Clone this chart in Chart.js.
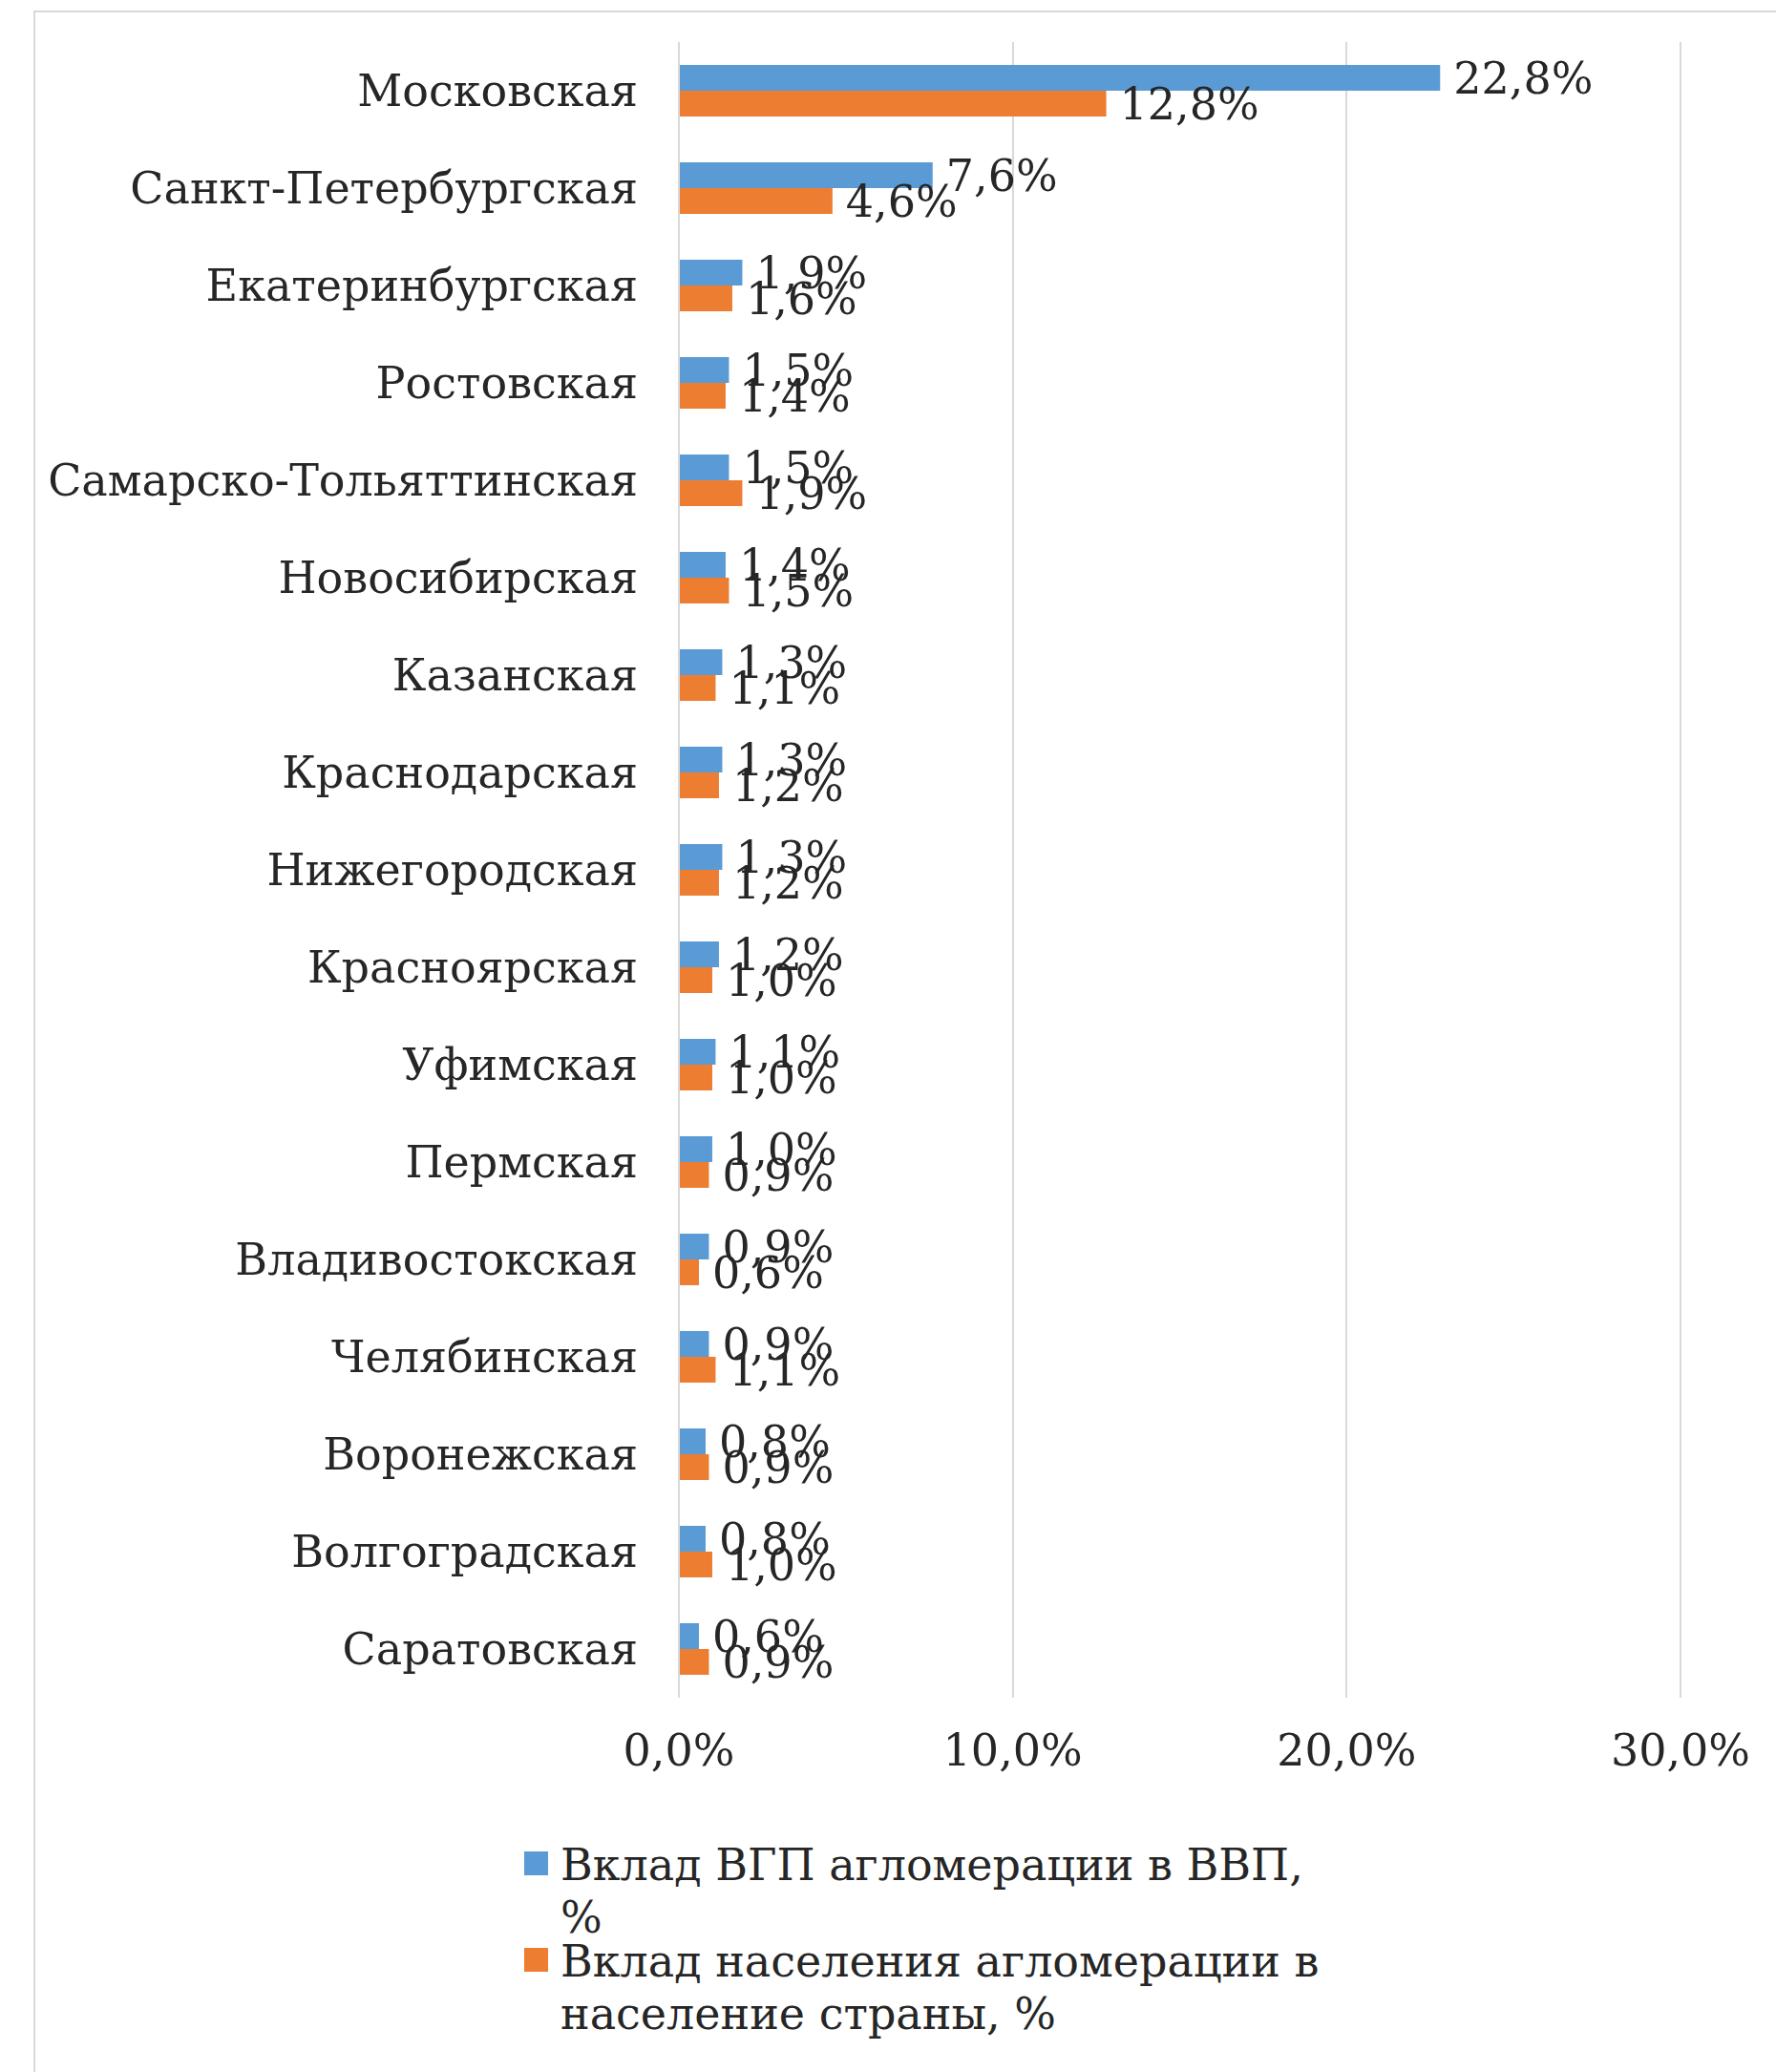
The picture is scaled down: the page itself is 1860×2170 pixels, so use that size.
<!DOCTYPE html>
<html lang="ru">
<head>
<meta charset="utf-8">
<title>Вклад агломераций</title>
<script src="https://cdn.jsdelivr.net/npm/chart.js@4.4.1/dist/chart.umd.min.js"></script>
<style>
  html, body { margin: 0; padding: 0; background: #ffffff; overflow: hidden; }
  #page { position: relative; width: 1860px; height: 2170px; overflow: hidden; background: #fff; }
  #frame { position: absolute; left: 35px; top: 11px; width: 1900px; height: 2300px;
           border: 2px solid #d9d9d9; box-sizing: border-box; }
  #c { position: absolute; left: 0; top: 0; }
  .lg { position: absolute; font-family: "DejaVu Serif", serif; font-size: 46px; line-height: 55px;
        color: #262626; white-space: nowrap; }
  .sw { position: absolute; width: 25px; height: 25px; }
</style>
</head>
<body>
<div id="page">
  <div id="frame"></div>
  <canvas id="c" width="1860" height="1900"></canvas>
  <div id="legend"></div>
</div>
<script>
// ---- data ----
const categories = [
  "Московская", "Санкт-Петербургская", "Екатеринбургская", "Ростовская",
  "Самарско-Тольяттинская", "Новосибирская", "Казанская", "Краснодарская",
  "Нижегородская", "Красноярская", "Уфимская", "Пермская", "Владивостокская",
  "Челябинская", "Воронежская", "Волгоградская", "Саратовская"
];
const gdpShare = [22.8, 7.6, 1.9, 1.5, 1.5, 1.4, 1.3, 1.3, 1.3, 1.2, 1.1, 1.0, 0.9, 0.9, 0.8, 0.8, 0.6];
const popShare = [12.8, 4.6, 1.6, 1.4, 1.9, 1.5, 1.1, 1.2, 1.2, 1.0, 1.0, 0.9, 0.6, 1.1, 0.9, 1.0, 0.9];
const seriesNames = ["Вклад ВГП агломерации в ВВП, %", "Вклад населения агломерации в население страны, %"];
const legendLines = [["Вклад ВГП агломерации в ВВП,", "%"], ["Вклад населения агломерации в", "население страны, %"]];
const xTicks = [0, 10, 20, 30];

const colors = ["#5B9BD5", "#ED7D31"];
const FONT = "DejaVu Serif";
const TEXT = "#262626";
const FS = 46;

const fmt = v => v.toFixed(1).replace(".", ",") + "%";

const labelPlugin = {
  id: "barLabels",
  afterDatasetsDraw(chart) {
    const ctx = chart.ctx;
    ctx.save();
    ctx.font = FS + "px '" + FONT + "'";
    ctx.fillStyle = TEXT;
    ctx.textAlign = "left";
    ctx.textBaseline = "middle";
    chart.data.datasets.forEach((ds, i) => {
      const meta = chart.getDatasetMeta(i);
      meta.data.forEach((el, j) => {
        ctx.fillText(fmt(ds.data[j]), el.x + 14, el.y + 5);
      });
    });
    ctx.restore();
  }
};

new Chart(document.getElementById("c"), {
  type: "bar",
  data: {
    labels: categories,
    datasets: [
      { label: seriesNames[0], data: gdpShare, backgroundColor: colors[0], borderWidth: 0,
        categoryPercentage: 0.53, barPercentage: 1.0 },
      { label: seriesNames[1], data: popShare, backgroundColor: colors[1], borderWidth: 0,
        categoryPercentage: 0.53, barPercentage: 1.0 }
    ]
  },
  options: {
    indexAxis: "y",
    responsive: false,
    animation: false,
    devicePixelRatio: 1,
    layout: { padding: { top: 44, right: 100, left: 0, bottom: 0 } },
    plugins: { legend: { display: false }, tooltip: { enabled: false }, title: { display: false } },
    scales: {
      x: {
        min: 0, max: 30,
        afterBuildTicks: s => { s.ticks = xTicks.map(v => ({ value: v })); },
        afterFit: s => { s.height = 122; s.paddingLeft = 0; s.paddingRight = 0; },
        border: { display: false },
        grid: { color: "#d9d9d9", lineWidth: 2, drawTicks: false },
        ticks: { callback: v => fmt(v), color: TEXT, padding: 31, maxRotation: 0,
                 font: { family: FONT, size: FS } }
      },
      y: {
        afterFit: s => { s.width = 711; s.paddingTop = 0; s.paddingBottom = 0; },
        border: { display: false },
        grid: { display: false, drawTicks: false },
        ticks: { color: TEXT, padding: 43, labelOffset: 4, font: { family: FONT, size: FS } }
      }
    }
  },
  plugins: [labelPlugin]
});

// ---- legend (HTML) ----
const lg = document.getElementById("legend");
const tops = [1926, 2027];
legendLines.forEach((lines, i) => {
  const sw = document.createElement("div");
  sw.className = "sw";
  sw.style.left = "549px";
  sw.style.top = (tops[i] + 13) + "px";
  sw.style.background = colors[i];
  lg.appendChild(sw);
  const t = document.createElement("div");
  t.className = "lg";
  t.style.left = "587px";
  t.style.top = tops[i] + "px";
  t.title = seriesNames[i];
  t.innerHTML = lines.join("<br>");
  lg.appendChild(t);
});
</script>
</body>
</html>
